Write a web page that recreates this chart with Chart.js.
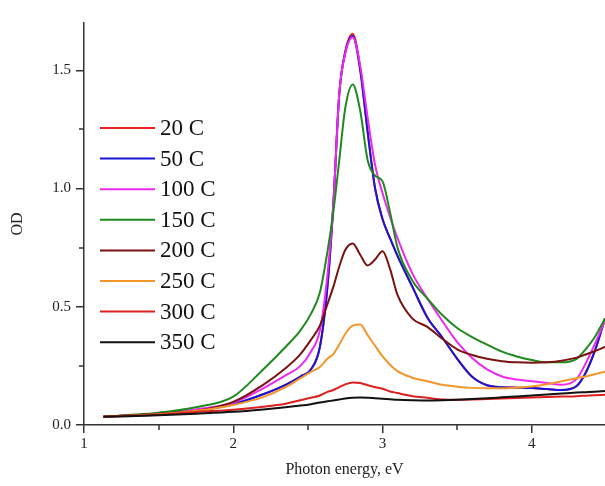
<!DOCTYPE html>
<html>
<head>
<meta charset="utf-8">
<script src="https://cdn.jsdelivr.net/npm/chart.js@4.4.1/dist/chart.umd.min.js"></script>
<style>
  html, body { margin: 0; padding: 0; background: #fff; overflow: hidden; }
  #wrap { width: 605px; height: 486px; }
</style>
</head>
<body>
<div id="wrap"><canvas id="odChart" width="605" height="486"></canvas></div>
<script>
// photon energy grid (eV) shared by all spectra
const energies = [1.13, 1.3, 1.5, 1.75, 2.0, 2.2, 2.35, 2.45, 2.52, 2.58,
                  2.63, 2.67, 2.71, 2.75, 2.8, 2.85, 2.9, 2.95, 3.0, 3.05,
                  3.1, 3.2, 3.3, 3.4, 3.5, 3.6, 3.7, 3.8, 3.9, 4.0,
                  4.1, 4.2, 4.3, 4.36, 4.42, 4.49];

const od20C  = [0.035, 0.040, 0.048, 0.062, 0.088, 0.130, 0.170, 0.205, 0.235, 0.330,
                0.580, 0.930, 1.400, 1.580, 1.655, 1.510, 1.240, 1.000, 0.870, 0.790,
                0.715, 0.584, 0.455, 0.370, 0.280, 0.204, 0.168, 0.160, 0.158, 0.156,
                0.152, 0.148, 0.165, 0.220, 0.310, 0.450];
const od50C  = [0.035, 0.040, 0.048, 0.062, 0.088, 0.130, 0.170, 0.205, 0.235, 0.330,
                0.580, 0.930, 1.400, 1.575, 1.645, 1.500, 1.240, 1.000, 0.870, 0.790,
                0.715, 0.584, 0.455, 0.370, 0.280, 0.204, 0.168, 0.160, 0.158, 0.156,
                0.152, 0.148, 0.165, 0.220, 0.310, 0.450];
const od100C = [0.035, 0.040, 0.050, 0.066, 0.094, 0.155, 0.210, 0.250, 0.310, 0.400,
                0.630, 0.930, 1.400, 1.570, 1.640, 1.520, 1.300, 1.100, 0.980, 0.880,
                0.790, 0.640, 0.535, 0.440, 0.350, 0.283, 0.235, 0.205, 0.192, 0.185,
                0.178, 0.170, 0.195, 0.260, 0.340, 0.440];
const od150C = [0.035, 0.042, 0.052, 0.075, 0.120, 0.235, 0.330, 0.400, 0.470, 0.560,
                0.730, 0.900, 1.120, 1.340, 1.440, 1.330, 1.120, 1.055, 1.030, 0.900,
                0.750, 0.610, 0.535, 0.465, 0.410, 0.372, 0.340, 0.310, 0.290, 0.275,
                0.265, 0.265, 0.280, 0.320, 0.370, 0.450];
const od200C = [0.035, 0.040, 0.048, 0.060, 0.098, 0.170, 0.240, 0.300, 0.360, 0.420,
                0.510, 0.584, 0.670, 0.740, 0.768, 0.720, 0.675, 0.700, 0.735, 0.660,
                0.550, 0.450, 0.415, 0.365, 0.320, 0.296, 0.280, 0.270, 0.265, 0.263,
                0.265, 0.272, 0.285, 0.298, 0.312, 0.330];
const od250C = [0.035, 0.039, 0.045, 0.060, 0.085, 0.118, 0.160, 0.198, 0.225, 0.245,
                0.280, 0.300, 0.340, 0.385, 0.420, 0.425, 0.380, 0.335, 0.290, 0.255,
                0.228, 0.200, 0.185, 0.170, 0.162, 0.157, 0.155, 0.155, 0.158, 0.163,
                0.172, 0.185, 0.198, 0.205, 0.215, 0.225];
const od300C = [0.035, 0.038, 0.043, 0.055, 0.065, 0.077, 0.090, 0.105, 0.115, 0.125,
                0.140, 0.148, 0.160, 0.172, 0.180, 0.178, 0.168, 0.160, 0.153, 0.142,
                0.135, 0.122, 0.115, 0.108, 0.107, 0.108, 0.110, 0.112, 0.114, 0.116,
                0.118, 0.120, 0.122, 0.124, 0.126, 0.128];
const od350C = [0.035, 0.037, 0.041, 0.048, 0.056, 0.066, 0.075, 0.082, 0.088, 0.095,
                0.100, 0.104, 0.108, 0.112, 0.115, 0.116, 0.115, 0.113, 0.111, 0.109,
                0.107, 0.105, 0.104, 0.105, 0.107, 0.110, 0.113, 0.117, 0.121, 0.125,
                0.129, 0.133, 0.137, 0.139, 0.141, 0.144];

const seriesLabels = ['20 C', '50 C', '100 C', '150 C', '200 C', '250 C', '300 C', '350 C'];
const seriesValues = [od20C, od50C, od100C, od150C, od200C, od250C, od300C, od350C];
const seriesColors = ['#e8231d', '#1616d8', '#ee28ee', '#1e8a1e', '#7a1212', '#f2962c', '#dc2020', '#111111'];

// axis ticks
const xTicks = [1, 2, 3, 4];
const xMinorTicks = [1.5, 2.5, 3.5, 4.5];
const yTicks = [0, 0.5, 1.0, 1.5];
const yMinorTicks = [0.25, 0.75, 1.25];

const serif = "'Liberation Serif', 'Times New Roman', serif";
const axisColor = '#333';

// minor tick marks (Chart.js has no minor ticks)
const minorTicksPlugin = {
    id: 'minorTicks',
    afterDraw(chart) {
        const ctx = chart.ctx;
        const xs = chart.scales.x, ys = chart.scales.y;
        const area = chart.chartArea;
        ctx.save();
        ctx.strokeStyle = axisColor;
        ctx.lineWidth = 1.5;
        ctx.beginPath();
        xMinorTicks.forEach(v => {
            if (v < xs.min || v > xs.max) return;
            const px = Math.round(xs.getPixelForValue(v));
            ctx.moveTo(px, area.bottom);
            ctx.lineTo(px, area.bottom + 5);
        });
        yMinorTicks.forEach(v => {
            const py = Math.round(ys.getPixelForValue(v));
            ctx.moveTo(area.left, py);
            ctx.lineTo(area.left - 5, py);
        });
        ctx.stroke();
        ctx.restore();
    }
};

// legend drawn inside the plot, left side
const innerLegendPlugin = {
    id: 'innerLegend',
    afterDraw(chart) {
        const ctx = chart.ctx;
        ctx.save();
        ctx.font = '23px ' + serif;
        ctx.textBaseline = 'middle';
        chart.data.datasets.forEach((ds, i) => {
            const y = 128 + i * 30.6;
            ctx.strokeStyle = ds.borderColor;
            ctx.lineWidth = 2;
            ctx.beginPath();
            ctx.moveTo(100, y);
            ctx.lineTo(155, y);
            ctx.stroke();
            ctx.fillStyle = '#111';
            ctx.fillText(ds.label, 160, y + 1);
        });
        ctx.restore();
    }
};

const ctx = document.getElementById('odChart').getContext('2d');
new Chart(ctx, {
    type: 'line',
    data: {
        datasets: seriesLabels.map((label, i) => ({
            label: label,
            data: energies.map((x, k) => ({ x: x, y: seriesValues[i][k] })),
            borderColor: seriesColors[i],
            backgroundColor: seriesColors[i],
            borderWidth: 2,
            pointRadius: 0,
            cubicInterpolationMode: 'monotone',
            fill: false,
            order: seriesLabels.length - i   // later series on top
        }))
    },
    options: {
        responsive: false,
        animation: false,
        layout: { padding: { top: 23, right: 0, left: 0, bottom: 0 } },
        plugins: {
            legend: { display: false },
            tooltip: { enabled: false }
        },
        scales: {
            x: {
                type: 'linear',
                min: 1,
                max: 4.49,
                afterBuildTicks: scale => { scale.ticks = xTicks.map(v => ({ value: v })); },
                afterFit: scale => { scale.height = 61; },
                grid: { display: true, drawOnChartArea: false, drawTicks: true, tickLength: 8, color: axisColor, lineWidth: 1.5 },
                border: { display: true, color: axisColor, width: 1.5 },
                ticks: {
                    color: '#222',
                    font: { family: serif, size: 15 },
                    padding: 2,
                    maxRotation: 0,
                    callback: v => String(v)
                },
                title: {
                    display: true,
                    text: 'Photon energy, eV',
                    color: '#222',
                    font: { family: serif, size: 16 },
                    padding: { top: 0, bottom: 7 }
                }
            },
            y: {
                type: 'linear',
                min: 0,
                max: 1.7,
                afterBuildTicks: scale => { scale.ticks = yTicks.map(v => ({ value: v })); },
                afterFit: scale => { scale.width = 84; },
                grid: { display: true, drawOnChartArea: false, drawTicks: true, tickLength: 8, color: axisColor, lineWidth: 1.5 },
                border: { display: true, color: axisColor, width: 1.5 },
                ticks: {
                    color: '#222',
                    font: { family: serif, size: 15 },
                    padding: 5,
                    callback: v => v.toFixed(1)
                },
                title: {
                    display: true,
                    text: 'OD',
                    color: '#222',
                    font: { family: serif, size: 16 },
                    padding: { top: 8, bottom: 0 }
                }
            }
        }
    },
    plugins: [minorTicksPlugin, innerLegendPlugin]
});
</script>
</body>
</html>
